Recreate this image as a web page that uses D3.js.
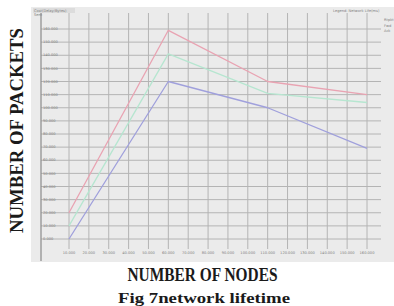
<!DOCTYPE html>
<html>
<head>
<meta charset="utf-8">
<script src="https://d3js.org/d3.v7.min.js"></script>
<style>
body { margin: 0; background: #fff; }
.grid { stroke: #b4b4b4; stroke-width: 1; }
.tick-label { font-family: "DejaVu Sans", sans-serif; font-size: 3.6px; fill: #808080; }
.big { font-family: "Liberation Serif", serif; font-weight: bold; fill: #1a1a1a; }
.series { fill: none; stroke-width: 1.3; stroke-linejoin: round; }
</style>
</head>
<body>
<div class="container"></div>
<script>
const WIDTH = 394;
const HEIGHT = 306;

// panel / plot box
const PANEL = {left: 31, top: 7, right: 394, bottom: 262};
const PLOT = {left: 69, right: 367, top: 29, bottom: 239};
const AXIS_X = 41;

var xTicks = [10, 20, 30, 40, 50, 60, 70, 80, 90, 100, 110, 120, 130, 140, 150, 160];
var yTicks = [0, 10, 20, 30, 40, 50, 60, 70, 80, 90, 100, 110, 120, 130, 140, 150, 160];

var nodes = [10, 60, 110, 160];
var redPackets = [20, 159, 120, 110];
var greenPackets = [10, 141, 111, 104];
var bluePackets = [0, 120, 100, 69];

var seriesNames = ["Rtpkt", "Fwd", "Ack"];
var seriesColors = ["#e9a3b2", "#b6e6d0", "#a0a0dc"];

var translate = function(x, y){
	return "translate(" + x + "," + y + ")";
};

var loadChart = function(){
	var svg = d3.select('.container').append('svg')
		.attr('width', WIDTH)
		.attr('height', HEIGHT);

	svg.append('rect')
		.attr('x', PANEL.left)
		.attr('y', PANEL.top)
		.attr('width', PANEL.right - PANEL.left)
		.attr('height', PANEL.bottom - PANEL.top)
		.attr('fill', '#ebebeb');

	var xScale = d3.scaleLinear()
		.domain([10, 160])
		.range([PLOT.left, PLOT.right]);

	var yScale = d3.scaleLinear()
		.domain([0, 160])
		.range([PLOT.bottom, PLOT.top]);

	// horizontal grid
	svg.selectAll('.hgrid')
		.data(yTicks)
		.enter().append('line')
		.classed('grid', true)
		.attr('x1', AXIS_X)
		.attr('x2', 381)
		.attr('y1', function(d){ return yScale(d); })
		.attr('y2', function(d){ return yScale(d); });

	// vertical grid
	svg.selectAll('.vgrid')
		.data(xTicks)
		.enter().append('line')
		.classed('grid', true)
		.attr('x1', function(d){ return xScale(d); })
		.attr('x2', function(d){ return xScale(d); })
		.attr('y1', 13)
		.attr('y2', 249);

	// left axis line
	svg.append('line')
		.attr('x1', AXIS_X).attr('x2', AXIS_X)
		.attr('y1', 9).attr('y2', PANEL.bottom - 1)
		.attr('stroke', '#8a8a8a')
		.attr('stroke-width', 1.2);

	svg.selectAll('.ylab')
		.data(yTicks)
		.enter().append('text')
		.classed('tick-label', true)
		.attr('x', 43)
		.attr('y', function(d){ return yScale(d) + 1.2; })
		.text(function(d){ return d.toFixed(3); });

	svg.selectAll('.xlab')
		.data(xTicks)
		.enter().append('text')
		.classed('tick-label', true)
		.attr('text-anchor', 'middle')
		.attr('x', function(d){ return xScale(d); })
		.attr('y', 254)
		.text(function(d){ return d.toFixed(3); });

	// small header texts inside the panel
	svg.append('rect')
		.attr('x', 33).attr('y', 8)
		.attr('width', 42).attr('height', 5)
		.attr('fill', '#dcdcdc');
	svg.append('text').classed('tick-label', true)
		.attr('x', 34).attr('y', 12).text('Cost(Delay/Bytes)');
	svg.append('text').classed('tick-label', true)
		.attr('x', 34).attr('y', 16).text('Sent');
	svg.append('text').classed('tick-label', true)
		.attr('x', 333).attr('y', 12).text('Legend: Network Life(ms)');

	svg.selectAll('.leg')
		.data(seriesNames)
		.enter().append('text')
		.classed('tick-label', true)
		.attr('x', 384)
		.attr('y', function(d, i){ return 21 + i * 5.5; })
		.text(function(d){ return d; });

	var line = d3.line()
		.x(function(d, i){ return xScale(nodes[i]); })
		.y(function(d){ return yScale(d); });

	var seriesData = [redPackets, greenPackets, bluePackets];
	svg.selectAll('.series')
		.data(seriesData)
		.enter().append('path')
		.classed('series', true)
		.attr('stroke', function(d, i){ return seriesColors[i]; })
		.attr('d', function(d){ return line(d); });

	// axis titles and caption
	svg.append('text')
		.classed('big', true)
		.attr('transform', translate(23, 130.5) + ' rotate(-90)')
		.attr('text-anchor', 'middle')
		.attr('font-size', 19)
		.attr('textLength', 205)
		.attr('lengthAdjust', 'spacingAndGlyphs')
		.text('NUMBER OF PACKETS');

	svg.append('text')
		.classed('big', true)
		.attr('x', 202.5)
		.attr('y', 281)
		.attr('text-anchor', 'middle')
		.attr('font-size', 18.5)
		.attr('textLength', 150)
		.attr('lengthAdjust', 'spacingAndGlyphs')
		.text('NUMBER OF NODES');

	svg.append('text')
		.classed('big', true)
		.attr('x', 204)
		.attr('y', 303)
		.attr('text-anchor', 'middle')
		.attr('font-size', 15.5)
		.attr('textLength', 172)
		.attr('lengthAdjust', 'spacingAndGlyphs')
		.text('Fig 7network lifetime');
};
window.onload = loadChart;
</script>
</body>
</html>
